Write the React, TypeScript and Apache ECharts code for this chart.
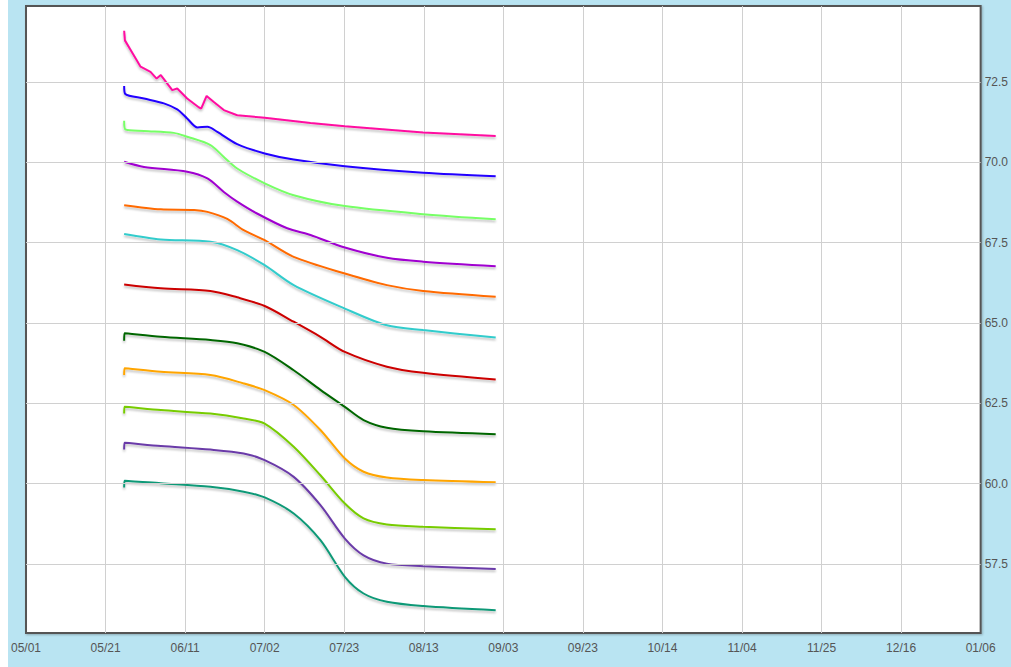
import React, { useEffect, useRef } from "react";
import * as echarts from "echarts";

// x values are days since 05/01
const xTickLabels = ["05/01", "05/21", "06/11", "07/02", "07/23", "08/13", "09/03", "09/23", "10/14", "11/04", "11/25", "12/16", "01/06"];
const xMax = 250;
const yTicks = [57.5, 60.0, 62.5, 65.0, 67.5, 70.0, 72.5];
const yMin = 55.35;
const yMax = 74.87;

const colors = ["#ff0aa0", "#2200ff", "#77ff66", "#a000d0", "#ff6a00", "#33cccc", "#cc0000", "#006600", "#ffa500", "#77cc00", "#6a3aa8", "#119977"];

const line1 = [[25.7, 74.1], [25.9, 73.8], [27.4, 73.5], [30.0, 72.98], [32.6, 72.82], [34.2, 72.61], [35.3, 72.72], [38.3, 72.25], [39.6, 72.3], [42.2, 71.99], [45.3, 71.71], [45.9, 71.68], [47.3, 72.07], [49.1, 71.89], [51.8, 71.63], [55.3, 71.47], [62.5, 71.39], [74.5, 71.23], [83.5, 71.13], [104.0, 70.93], [123.0, 70.82]];
const line2 = [[25.7, 72.38], [26.0, 72.13], [30.9, 71.99], [36.1, 71.84], [39.6, 71.65], [42.2, 71.37], [44.9, 71.09], [47.5, 71.11], [50.1, 70.95], [55.3, 70.57], [62.5, 70.28], [70.1, 70.09], [83.5, 69.88], [104.0, 69.68], [123.0, 69.57]];
const line3 = [[25.7, 71.3], [26.0, 71.03], [30.9, 70.98], [38.7, 70.92], [42.2, 70.8], [48.3, 70.54], [51.8, 70.17], [55.3, 69.81], [62.5, 69.35], [70.1, 68.98], [83.5, 68.64], [104.0, 68.39], [123.0, 68.23]];
const line4 = [[25.7, 70.02], [30.9, 69.86], [42.2, 69.71], [47.5, 69.5], [51.8, 69.08], [55.3, 68.78], [60.5, 68.41], [68.4, 67.95], [74.5, 67.74], [83.5, 67.35], [94.5, 67.03], [104.0, 66.91], [123.0, 66.77]];
const line5 = [[25.7, 68.67], [35.3, 68.54], [44.0, 68.52], [47.5, 68.46], [52.7, 68.24], [57.0, 67.89], [62.5, 67.58], [70.1, 67.06], [83.5, 66.54], [94.5, 66.18], [104.0, 66.0], [123.0, 65.82]];
const line6 = [[25.7, 67.77], [35.3, 67.6], [48.3, 67.53], [55.3, 67.27], [62.5, 66.8], [70.1, 66.18], [83.5, 65.45], [94.5, 64.93], [104.0, 64.78], [123.0, 64.55]];
const line7 = [[25.7, 66.2], [35.3, 66.08], [48.3, 66.0], [55.3, 65.8], [62.5, 65.53], [70.1, 65.04], [77.1, 64.57], [83.5, 64.1], [94.5, 63.64], [104.0, 63.45], [123.0, 63.24]];
const line8 = [[25.7, 64.45], [25.8, 64.68], [35.3, 64.57], [48.3, 64.47], [55.3, 64.37], [62.5, 64.1], [70.1, 63.53], [77.1, 62.92], [83.5, 62.39], [88.4, 61.98], [94.5, 61.74], [104.0, 61.63], [123.0, 61.54]];
const line9 = [[25.7, 63.38], [25.8, 63.59], [35.3, 63.48], [48.3, 63.38], [57.0, 63.12], [62.5, 62.91], [70.1, 62.45], [77.1, 61.67], [83.5, 60.78], [88.4, 60.37], [94.5, 60.19], [104.0, 60.11], [123.0, 60.04]];
const line10 = [[25.7, 62.18], [25.8, 62.39], [35.3, 62.29], [48.3, 62.18], [57.0, 62.03], [62.5, 61.87], [70.1, 61.15], [77.1, 60.26], [83.5, 59.38], [88.4, 58.92], [94.5, 58.73], [104.0, 58.66], [123.0, 58.58]];
const line11 = [[25.7, 61.06], [25.8, 61.27], [35.3, 61.17], [48.3, 61.06], [57.0, 60.94], [62.5, 60.73], [70.1, 60.21], [77.1, 59.33], [83.5, 58.29], [88.4, 57.77], [94.5, 57.51], [104.0, 57.43], [123.0, 57.34]];
const line12 = [[25.7, 59.88], [25.8, 60.09], [35.3, 60.01], [48.3, 59.9], [57.0, 59.75], [62.5, 59.57], [70.1, 59.07], [77.1, 58.24], [83.5, 57.1], [88.4, 56.58], [94.5, 56.32], [104.0, 56.19], [123.0, 56.06]];

const lines = [line1, line2, line3, line4, line5, line6, line7, line8, line9, line10, line11, line12];

export default function App() {
  const ref = useRef<HTMLDivElement>(null);
  useEffect(() => {
    if (!ref.current) return;
    const chart = echarts.init(ref.current, null, { renderer: "svg" });
    const interval = xMax / (xTickLabels.length - 1);
    const font = "'Liberation Sans', Arial, sans-serif";
    chart.setOption({
      animation: false,
      backgroundColor: "#b9e4f2",
      grid: {
        left: 17,
        right: 29,
        top: 6,
        bottom: 34,
        show: true,
        backgroundColor: "#ffffff",
        borderColor: "#555555",
        borderWidth: 2,
        shadowColor: "rgba(0,0,0,0.25)",
        shadowBlur: 2,
        shadowOffsetX: 1,
        shadowOffsetY: 1,
      },
      xAxis: {
        type: "value",
        min: 0,
        max: xMax,
        interval: interval,
        axisLine: { show: false },
        axisTick: { show: false },
        axisLabel: {
          color: "#555555",
          fontSize: 12,
          fontFamily: font,
          margin: 9,
          formatter: (v: number) => xTickLabels[Math.round(v / interval)] ?? "",
        },
        splitLine: { show: true, showMinLine: false, showMaxLine: false, lineStyle: { color: "#d0d0d0", width: 1 } },
      },
      yAxis: {
        type: "value",
        position: "right",
        min: yMin,
        max: yMax,
        axisLine: { show: false },
        axisTick: { show: false },
        splitLine: { show: false },
        axisLabel: {
          customValues: yTicks,
          color: "#555555",
          fontSize: 12,
          fontFamily: font,
          margin: 4,
          formatter: (v: number) => v.toFixed(1),
        },
      },
      series: [
        {
          type: "line",
          data: [],
          z: 1,
          silent: true,
          markLine: {
            silent: true,
            symbol: ["none", "none"],
            label: { show: false },
            lineStyle: { color: "#d0d0d0", width: 1, type: "solid" },
            emphasis: { disabled: true },
            data: yTicks.map((v) => ({ yAxis: v })),
          },
        },
        ...lines.map((d, i) => ({
          type: "line",
          data: d,
          showSymbol: false,
          symbol: "none",
          smooth: i === 0 ? false : 0.3,
          z: 3,
          lineStyle: {
            color: colors[i],
            width: 2,
            shadowColor: "rgba(0,0,0,0.25)",
            shadowBlur: 2,
            shadowOffsetY: 2,
          },
          itemStyle: { color: colors[i] },
        })),
      ],
    });
    return () => chart.dispose();
  }, []);
  return (
    <div
      ref={ref}
      style={{ position: "absolute", left: 8, top: 0, width: 1003, height: 667 }}
    />
  );
}
